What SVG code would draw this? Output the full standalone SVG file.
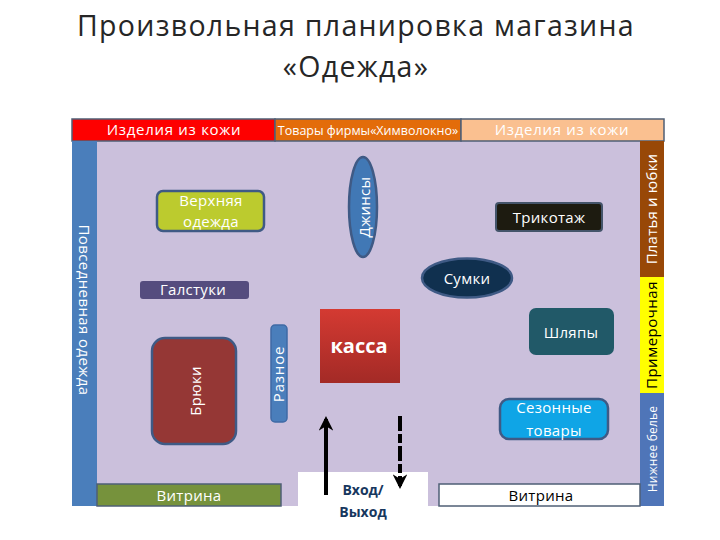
<svg xmlns="http://www.w3.org/2000/svg" width="720" height="540" viewBox="0 0 720 540">
<style>
text{font-family:"Open Sans","Liberation Sans",sans-serif;text-anchor:middle;fill:#fff;font-size:15px;letter-spacing:.3px}
.t{fill:#262626;font-size:28.500px;letter-spacing:1.3px}
.b{stroke:#4f5f75;stroke-width:1.500}
.n{stroke:#3f5a85;stroke-width:2.5}
.a{stroke:#000;stroke-width:4;fill:none}
</style>
<defs>
<linearGradient id="g" x1="0" y1="0" x2="0" y2="1"><stop offset="0" stop-color="#d43a32"/><stop offset="1" stop-color="#a32a26"/></linearGradient>
<marker id="h" viewBox="0 0 10 10" refX="8" refY="5" markerWidth="3.6" markerHeight="3.6" orient="auto"><path d="M0 0L10 5L0 10L3 5Z" fill="#000"/></marker>
</defs>
<rect width="720" height="540" fill="#fff"/>
<g id="title"><text class="t" x="356" y="36">Произвольная планировка магазина</text><text class="t" x="356" y="77">«Одежда»</text></g>
<g id="floor"><rect x="72" y="141" width="592" height="365" fill="#cbc0dc"/></g>
<g id="band-red"><rect class="b" x="72" y="119" width="203" height="22" fill="#fe0000"/><text x="174" y="135" style="letter-spacing:.7px">Изделия из кожи</text></g>
<g id="band-orange"><rect class="b" x="275" y="119" width="186" height="22" fill="#e36c0a"/><text x="368" y="135" style="font-size:12.5px;letter-spacing:0">Товары фирмы«Химволокно»</text></g>
<g id="band-peach"><rect class="b" x="461" y="119" width="203" height="22" fill="#fac090"/><text x="562" y="135" style="letter-spacing:.7px">Изделия из кожи</text></g>
<g id="left-wall"><rect x="72" y="141" width="25" height="365" fill="#4a7ebb"/><text transform="translate(79 310) rotate(90)" style="font-size:15px;letter-spacing:.4px">Повседневная одежда</text></g>
<g id="right-dresses"><rect x="640" y="141" width="24" height="136" fill="#984807"/><text transform="translate(657 209) rotate(-90)" style="font-size:15px;letter-spacing:.2px">Платья и юбки</text></g>
<g id="right-fitting"><rect x="640" y="277" width="24" height="116" fill="#ffff00"/><text transform="translate(657 335) rotate(-90)" style="font-size:15px;fill:#000;letter-spacing:.5px">Примерочная</text></g>
<g id="right-underwear"><rect x="640" y="393" width="24" height="113" fill="#4f75b8"/><text transform="translate(657 449) rotate(-90)" style="font-size:12px;letter-spacing:.2px">Нижнее белье</text></g>
<g id="showcase-left"><rect x="97" y="484" width="184" height="22" fill="#76923c" stroke="#4f5f75" stroke-width="1.500"/><text x="189" y="501">Витрина</text></g>
<g id="door"><rect x="298" y="472" width="130" height="58" fill="#fff"/></g>
<g id="showcase-right"><rect x="439" y="484" width="201" height="22" fill="#fff" stroke="#4f5f75" stroke-width="1.500"/><text x="541" y="501" style="fill:#000">Витрина</text></g>
<g id="node-outerwear"><rect class="n" x="157" y="191" width="107" height="40" rx="6" fill="#bccb2e"/><text x="211" y="206">Верхняя</text><text x="211" y="227">одежда</text></g>
<g id="node-ties"><rect x="140" y="281" width="109" height="18" rx="3" fill="#554c7e"/><text x="193" y="295">Галстуки</text></g>
<g id="node-jeans"><ellipse class="n" cx="363" cy="207" rx="14" ry="50" fill="#4178b5"/><text transform="translate(370 207) rotate(-90)">Джинсы</text></g>
<g id="node-knitwear"><rect x="496" y="203" width="106" height="28" rx="3" fill="#1d1b10" stroke="#44546a" stroke-width="2"/><text x="549" y="223">Трикотаж</text></g>
<g id="node-bags"><ellipse class="n" cx="467" cy="278" rx="45" ry="19.500" fill="#10304f"/><text x="467" y="284">Сумки</text></g>
<g id="node-trousers"><rect class="n" x="152" y="338" width="84" height="106" rx="13" fill="#953735"/><text transform="translate(201 391) rotate(-90)">Брюки</text></g>
<g id="node-misc"><rect x="271" y="325" width="16" height="97" rx="4" fill="#4a7ebb" stroke="#3f6aa5" stroke-width="1.500"/><text transform="translate(284 374) rotate(-90)" style="letter-spacing:.8px">Разное</text></g>
<g id="node-cash"><rect x="320" y="309" width="80" height="74" fill="url(#g)"/><text x="359" y="353" style="font-size:20px;font-weight:700;letter-spacing:0">касса</text></g>
<g id="node-hats"><rect x="529" y="308" width="85" height="47" rx="7" fill="#215968"/><text x="571" y="338">Шляпы</text></g>
<g id="node-seasonal"><rect class="n" x="500" y="399" width="108" height="40" rx="9" fill="#0fa5e6"/><text x="554" y="413">Сезонные</text><text x="554" y="436">товары</text></g>
<g id="connectors"><path class="a" d="M326 495V419" marker-end="url(#h)"/><path class="a" d="M400 416V486" stroke-dasharray="15 3 9 3" marker-end="url(#h)"/></g>
<g id="door-label"><text x="363" y="495" style="fill:#17375e;font-size:14px;font-weight:700;letter-spacing:0">Вход/</text><text x="363" y="517" style="fill:#17375e;font-size:14px;font-weight:700;letter-spacing:0">Выход</text></g>
</svg>
